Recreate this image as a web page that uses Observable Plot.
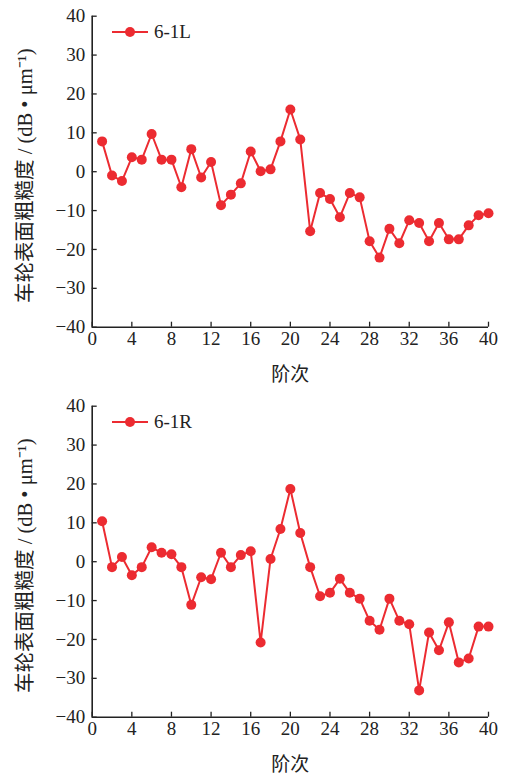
<!DOCTYPE html>
<html>
<head>
<meta charset="utf-8">
<script src="https://cdn.jsdelivr.net/npm/d3@7"></script>
<script src="https://cdn.jsdelivr.net/npm/@observablehq/plot@0.6"></script>
<style>
  html, body { margin: 0; padding: 0; background: #fff; }
  .panel { position: relative; width: 512px; }
  .legend { position: absolute; left: 111px; top: 21px; display: flex; align-items: center;
            font-family: "Liberation Serif", "Times New Roman", serif; font-size: 19px; color: #222; }
  .legend svg { margin-right: 5px; }
</style>
</head>
<body>
<div id="chart"></div>
<script>
const orders = d3.range(1, 41);
const seriesL = [7.8, -1.0, -2.4, 3.7, 3.1, 9.7, 3.1, 3.1, -4.0, 5.8,
                 -1.5, 2.5, -8.6, -5.9, -3.0, 5.2, 0.1, 0.6, 7.8, 16.0,
                 8.3, -15.3, -5.5, -7.0, -11.7, -5.5, -6.6, -17.9, -22.1, -14.7,
                 -18.4, -12.5, -13.2, -17.9, -13.2, -17.4, -17.4, -13.8, -11.2, -10.7];
const seriesR = [10.4, -1.4, 1.2, -3.5, -1.4, 3.7, 2.3, 1.9, -1.4, -11.1,
                 -4.0, -4.5, 2.3, -1.4, 1.7, 2.7, -20.8, 0.7, 8.4, 18.7,
                 7.4, -1.4, -8.9, -8.0, -4.4, -8.0, -9.5, -15.2, -17.5, -9.5,
                 -15.2, -16.1, -33.1, -18.2, -22.8, -15.6, -25.9, -24.9, -16.7, -16.7];
const seriesNames = ["6-1L", "6-1R"];
const xTicks = d3.range(0, 41, 4);
const yTicks = d3.range(-40, 41, 10);
const xLabel = "阶次";
const yLabel = "车轮表面粗糙度 / (dB • μm⁻¹)";
const red = "#ec2b31";
const font = "'Liberation Serif', 'Noto Sans CJK SC', serif";

function panel(values, name, height) {
  const data = orders.map((o, i) => ({x: o, y: values[i]}));
  const plot = Plot.plot({
    width: 512,
    height: height,
    marginLeft: 91.7,
    marginRight: 24,
    marginTop: 15.7,
    marginBottom: height - 326.7,
    style: {fontFamily: font, fontSize: "19px", color: "#222", background: "transparent"},
    x: {domain: [0, 40]},
    y: {domain: [-40, 40]},
    marks: [
      Plot.axisX({ticks: xTicks, tickSize: -5, text: null, stroke: "#222", strokeWidth: 1.3, label: null}),
      Plot.axisX({ticks: xTicks, tickSize: 0, tickPadding: 4, label: xLabel, labelAnchor: "center", labelArrow: "none", labelOffset: 54, fontSize: 19}),
      Plot.axisY({ticks: yTicks, tickSize: -5, text: null, stroke: "#222", strokeWidth: 1.3, label: null}),
      Plot.axisY({ticks: yTicks, tickSize: 0, tickPadding: 7, tickFormat: d => d3.format("")(d).replace("-", "−"), label: null, fontSize: 19}),
      Plot.text([yLabel], {frameAnchor: "left", rotate: -90, textAnchor: "middle", lineAnchor: "middle", dx: -67, dy: 4, fontSize: 20.5, fill: "#222"}),
      Plot.ruleX([0], {stroke: "#222", strokeWidth: 1.6}),
      Plot.ruleY([-40], {stroke: "#222", strokeWidth: 1.6}),
      Plot.line(data, {x: "x", y: "y", stroke: red, strokeWidth: 2}),
      Plot.dot(data, {x: "x", y: "y", r: 5, fill: red})
    ]
  });
  const wrap = document.createElement("div");
  wrap.className = "panel";
  wrap.appendChild(plot);
  const leg = document.createElement("div");
  leg.className = "legend";
  leg.innerHTML = `<svg width="38" height="12"><line x1="1" y1="6" x2="37" y2="6" stroke="${red}" stroke-width="2"/><circle cx="19" cy="6" r="5" fill="${red}"/></svg><span>${name}</span>`;
  wrap.appendChild(leg);
  return wrap;
}

const root = document.getElementById("chart");
root.appendChild(panel(seriesL, seriesNames[0], 390));
root.appendChild(panel(seriesR, seriesNames[1], 385));
</script>
</body>
</html>
